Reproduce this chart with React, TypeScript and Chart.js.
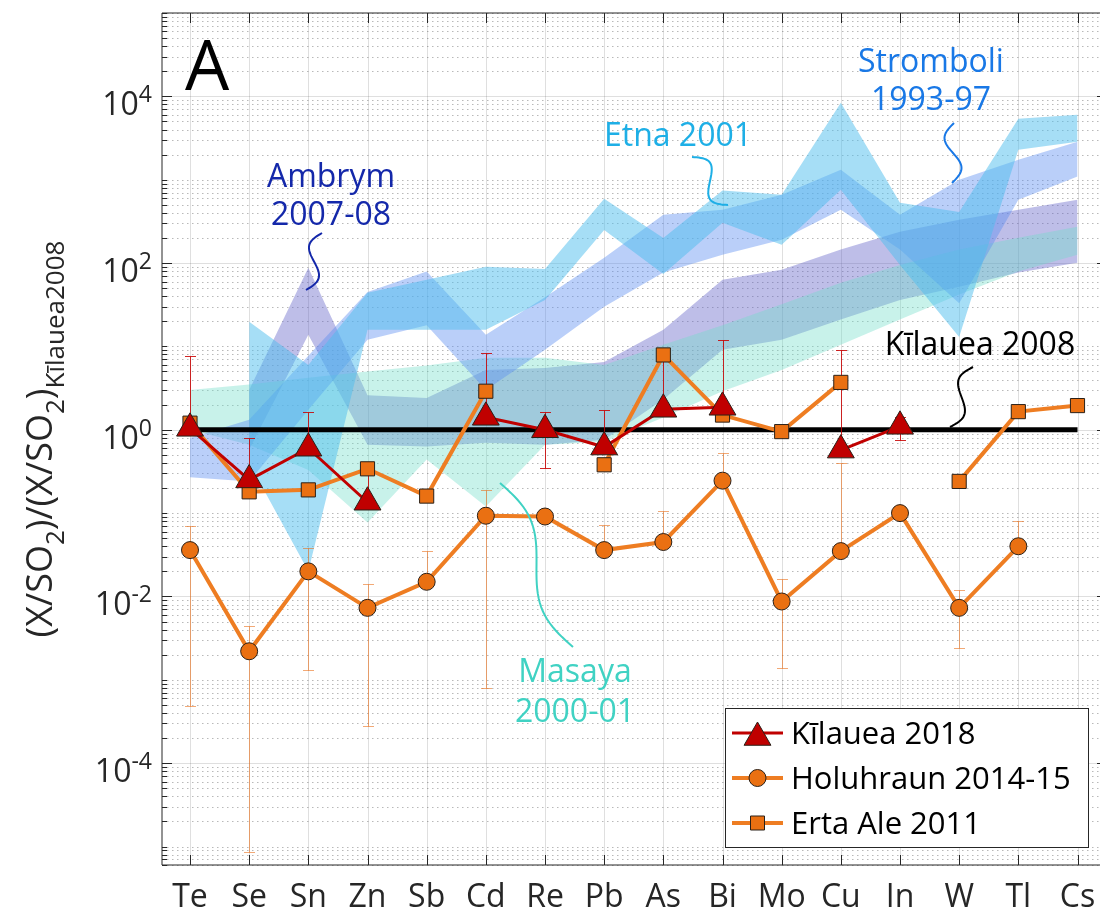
import React, { useEffect, useRef } from 'react';
import { Chart, registerables } from 'chart.js';

Chart.register(...registerables);

// ---------------- data ----------------
const categories = ['Te', 'Se', 'Sn', 'Zn', 'Sb', 'Cd', 'Re', 'Pb', 'As', 'Bi', 'Mo', 'Cu', 'In', 'W', 'Tl', 'Cs'];

const yTickExponents = [-4, -2, 0, 2, 4];

// Kīlauea 2018 (red triangles)
const kilauea2018 = [1.04, 0.25, 0.6, 0.135, null, 1.41, 1.0, 0.62, 1.76, 1.86, null, 0.57, 1.1, null, null, null];
const kilauea2018ErrHigh = [7.7, 0.8, 1.65, 0.36, null, 8.4, 1.65, 1.74, 7.8, 12, null, 9.1, 1.44, null, null, null];
const kilauea2018ErrLow = [null, null, null, null, null, null, 0.35, null, null, null, null, null, 0.76, null, null, null];

// Holuhraun 2014-15 (orange circles)
const holuhraun = [0.036, 0.0022, 0.02, 0.0073, 0.015, 0.093, 0.091, 0.036, 0.045, 0.245, 0.0087, 0.035, 0.1, 0.0073, 0.04, null];
const holuhraunErrHigh = [0.07, 0.0044, 0.038, 0.014, 0.035, 0.19, null, 0.072, 0.107, 0.53, 0.016, 0.4, null, 0.012, 0.081, null];
const holuhraunErrLow = [0.00048, 0.0000087, 0.0013, 0.00028, null, 0.0008, null, null, null, null, 0.0014, null, null, 0.0024, null, null];

// Erta Ale 2011 (orange squares)
const ertaAle = [1.2, 0.18, 0.19, 0.34, 0.16, 2.9, null, 0.38, 7.9, 1.5, 0.95, 3.7, null, 0.24, 1.65, 1.95];

// Kīlauea 2008 reference
const kilauea2008 = [1, 1, 1, 1, 1, 1, 1, 1, 1, 1, 1, 1, 1, 1, 1, 1];

// Ranges of other volcanoes (max / min)
const etnaMax = [null, 19.8, 6.0, 44, 63, 90, 85, 590, 200, 740, 660, 8400, 530, 410, 5400, 6000];
const etnaMin = [null, 0.4, 0.02, 15.8, 15.8, 15.8, 36, 250, 74, 305, 166, 760, 95, 13, 2290, 2860];
const stromboliMax = [0.8, 1.32, 7.7, 45, 79, 13.8, 39, 116, 380, 437, 661, 1318, 380, 1000, 1738, 2860];
const stromboliMin = [0.27, 0.24, 1.74, 12, 18, 3.0, 9.1, 30, 77, 126, 190, 437, 145, 33, 575, 1090];
const ambrymMax = [null, 3.0, 88, 2.6, 2.4, 5.2, 5.5, 6.5, 15.8, 63, 83, 145, 238, 331, 437, 575];
const ambrymMin = [null, 0.58, 13.8, 0.66, 0.63, 0.7, 0.66, 0.76, 2.3, 9.1, 12, 21, 36, 52, 77, 101];
const masayaMax = [3.0, 3.5, 4.2, 5.0, 5.9, 7.3, 7.3, 6.0, 10.5, 18, 32, 58, 95, 145, 201, 273];
const masayaMin = [1.0, 0.66, 0.33, 0.077, 0.44, 0.12, 0.66, 0.72, 1.4, 2.9, 5.2, 10.5, 21, 42, 79, 126];

// ---------------- styles ----------------
const FONT = '"Open Sans", "Noto Sans", "DejaVu Sans", sans-serif';
const AX = '#262626';
const RED = '#C00000';
const ORANGE_FILL = '#EA7012';
const ORANGE_LINE = '#EE7D22';
const MARKER_EDGE = '#2a2018';

const W = 1100;
const H = 913;

type Pt = { x: number; y: number | null };

function drawTriangle(ctx: CanvasRenderingContext2D, x: number, y: number, r: number) {
  ctx.beginPath();
  ctx.moveTo(x, y - r);
  ctx.lineTo(x + 0.866 * r, y + 0.5 * r);
  ctx.lineTo(x - 0.866 * r, y + 0.5 * r);
  ctx.closePath();
  ctx.fillStyle = RED;
  ctx.fill();
  ctx.lineWidth = 1;
  ctx.strokeStyle = MARKER_EDGE;
  ctx.stroke();
}

function drawCircle(ctx: CanvasRenderingContext2D, x: number, y: number, r: number) {
  ctx.beginPath();
  ctx.arc(x, y, r, 0, Math.PI * 2);
  ctx.fillStyle = ORANGE_FILL;
  ctx.fill();
  ctx.lineWidth = 1;
  ctx.strokeStyle = MARKER_EDGE;
  ctx.stroke();
}

function drawSquare(ctx: CanvasRenderingContext2D, x: number, y: number, s: number) {
  ctx.beginPath();
  ctx.rect(x - s / 2, y - s / 2, s, s);
  ctx.fillStyle = ORANGE_FILL;
  ctx.fill();
  ctx.lineWidth = 1;
  ctx.strokeStyle = MARKER_EDGE;
  ctx.stroke();
}

function squiggle(ctx: CanvasRenderingContext2D, x0: number, y0: number, x1: number, y1: number, amp: number, color: string) {
  const dx = x1 - x0;
  const dy = y1 - y0;
  const len = Math.hypot(dx, dy);
  const px = -dy / len;
  const py = dx / len;
  ctx.beginPath();
  for (let k = 0; k <= 40; k++) {
    const t = k / 40;
    const off = amp * Math.sin(2 * Math.PI * t);
    const x = x0 + dx * t + px * off;
    const y = y0 + dy * t + py * off;
    if (k === 0) ctx.moveTo(x, y);
    else ctx.lineTo(x, y);
  }
  ctx.strokeStyle = color;
  ctx.lineWidth = 2;
  ctx.stroke();
}

export default function App() {
  const canvasRef = useRef<HTMLCanvasElement | null>(null);

  useEffect(() => {
    const canvas = canvasRef.current;
    if (!canvas) return;

    const toPts = (arr: (number | null)[]): Pt[] => arr.map((v, i) => ({ x: i + 1, y: v }));
    const defined = (arr: (number | null)[]): Pt[] => toPts(arr).filter((p) => p.y !== null);

    const bands = [
      { max: ambrymMax, min: ambrymMin, color: 'rgba(100,100,200,0.42)' },
      { max: masayaMax, min: masayaMin, color: 'rgba(110,220,200,0.38)' },
      { max: stromboliMax, min: stromboliMin, color: 'rgba(90,140,240,0.42)' },
      { max: etnaMax, min: etnaMin, color: 'rgba(77,190,238,0.5)' },
    ];

    const datasets: any[] = [];
    bands.forEach((b, k) => {
      datasets.push({
        data: defined(b.max),
        fill: '+1',
        backgroundColor: b.color,
        borderColor: 'rgba(0,0,0,0)',
        borderWidth: 0,
        pointRadius: 0,
        order: 20 - k,
      });
      datasets.push({
        data: defined(b.min),
        fill: false,
        borderColor: 'rgba(0,0,0,0)',
        borderWidth: 0,
        pointRadius: 0,
        order: 20 - k,
      });
    });

    const refIndex = datasets.length;
    datasets.push({
      data: toPts(kilauea2008),
      borderColor: '#000000',
      borderWidth: 5,
      pointRadius: 0,
      fill: false,
      order: 5,
    });

    datasets.push({
      data: toPts(ertaAle),
      borderColor: ORANGE_LINE,
      borderWidth: 4,
      pointStyle: 'rect',
      pointRadius: 10,
      pointBackgroundColor: ORANGE_FILL,
      pointBorderColor: MARKER_EDGE,
      pointBorderWidth: 1,
      fill: false,
      spanGaps: false,
      order: 3,
    });
    datasets.push({
      data: toPts(holuhraun),
      borderColor: ORANGE_LINE,
      borderWidth: 4,
      pointStyle: 'circle',
      pointRadius: 8.5,
      pointBackgroundColor: ORANGE_FILL,
      pointBorderColor: MARKER_EDGE,
      pointBorderWidth: 1,
      fill: false,
      spanGaps: false,
      order: 2,
    });
    datasets.push({
      data: toPts(kilauea2018),
      borderColor: RED,
      borderWidth: 3,
      pointStyle: 'triangle',
      pointRadius: 15.5,
      pointBackgroundColor: RED,
      pointBorderColor: MARKER_EDGE,
      pointBorderWidth: 1,
      fill: false,
      spanGaps: false,
      order: 1,
    });

    const decor = {
      id: 'decor',
      beforeDatasetsDraw(chart: any) {
        const ctx: CanvasRenderingContext2D = chart.ctx;
        const { left, right, top, bottom } = chart.chartArea;
        const ys = chart.scales.y;
        const xs = chart.scales.x;
        ctx.save();
        // minor dotted grid
        ctx.lineWidth = 1;
        ctx.strokeStyle = 'rgba(38,38,38,0.32)';
        ctx.setLineDash([1.5, 3.5]);
        for (let e = -6; e <= 5; e++) {
          for (let m = 1; m <= 9; m++) {
            if (m === 1 && e % 2 === 0) continue;
            const v = m * Math.pow(10, e);
            const y = ys.getPixelForValue(v);
            if (y < top || y > bottom) continue;
            const yy = Math.round(y) + 0.5;
            ctx.beginPath();
            ctx.moveTo(left, yy);
            ctx.lineTo(right, yy);
            ctx.stroke();
          }
        }
        ctx.setLineDash([]);
        ctx.strokeStyle = 'rgba(38,38,38,0.15)';
        yTickExponents.forEach((e) => {
          const yy = Math.round(ys.getPixelForValue(Math.pow(10, e))) + 0.5;
          ctx.beginPath();
          ctx.moveTo(left, yy);
          ctx.lineTo(right, yy);
          ctx.stroke();
        });
        categories.forEach((_, i) => {
          const xx = Math.round(xs.getPixelForValue(i + 1)) + 0.5;
          ctx.beginPath();
          ctx.moveTo(xx, top);
          ctx.lineTo(xx, bottom);
          ctx.stroke();
        });
        ctx.restore();
      },
      afterDatasetDraw(chart: any, args: any) {
        if (args.index !== refIndex) return;
        const ctx: CanvasRenderingContext2D = chart.ctx;
        const ys = chart.scales.y;
        const xs = chart.scales.x;
        const drawErr = (vals: (number | null)[], hi: (number | null)[], lo: (number | null)[], color: string) => {
          ctx.save();
          ctx.strokeStyle = color;
          ctx.lineWidth = 1;
          vals.forEach((v, i) => {
            if (v === null) return;
            const x = Math.round(xs.getPixelForValue(i + 1)) + 0.5;
            const y0 = ys.getPixelForValue(v);
            [hi[i], lo[i]].forEach((e) => {
              if (e === null || e === undefined) return;
              const y1 = Math.round(ys.getPixelForValue(e)) + 0.5;
              ctx.beginPath();
              ctx.moveTo(x, y0);
              ctx.lineTo(x, y1);
              ctx.moveTo(x - 5.5, y1);
              ctx.lineTo(x + 5.5, y1);
              ctx.stroke();
            });
          });
          ctx.restore();
        };
        drawErr(holuhraun, holuhraunErrHigh, holuhraunErrLow, 'rgba(234,112,26,0.6)');
        drawErr(kilauea2018, kilauea2018ErrHigh, kilauea2018ErrLow, 'rgba(200,0,0,0.85)');
      },
      afterDraw(chart: any) {
        const ctx: CanvasRenderingContext2D = chart.ctx;
        const { left, right, top, bottom } = chart.chartArea;
        const ys = chart.scales.y;
        const xs = chart.scales.x;
        ctx.save();
        // axes lines
        ctx.strokeStyle = AX;
        ctx.lineWidth = 1;
        ctx.beginPath();
        ctx.moveTo(left, top);
        ctx.lineTo(left, bottom);
        ctx.lineTo(right, bottom);
        ctx.moveTo(left, top);
        ctx.lineTo(right, top);
        ctx.stroke();
        // y ticks
        for (let e = -6; e <= 5; e++) {
          for (let m = 1; m <= 9; m++) {
            const v = m * Math.pow(10, e);
            const y = ys.getPixelForValue(v);
            if (y < top - 0.5 || y > bottom + 0.5) continue;
            const major = m === 1 && e % 2 === 0;
            const len = major ? 10 : 5;
            const yy = Math.round(y) + 0.5;
            ctx.beginPath();
            ctx.moveTo(left, yy);
            ctx.lineTo(left + len, yy);
            if (major) {
              ctx.moveTo(right - 3, yy);
              ctx.lineTo(right, yy);
            }
            ctx.stroke();
          }
        }
        // x ticks
        categories.forEach((_, i) => {
          const xx = Math.round(xs.getPixelForValue(i + 1)) + 0.5;
          ctx.beginPath();
          ctx.moveTo(xx, bottom);
          ctx.lineTo(xx, bottom - 10);
          ctx.moveTo(xx, top);
          ctx.lineTo(xx, top + 10);
          ctx.stroke();
        });
        // x tick labels
        ctx.fillStyle = AX;
        ctx.font = `32px ${FONT}`;
        ctx.textAlign = 'center';
        ctx.textBaseline = 'alphabetic';
        categories.forEach((c, i) => {
          ctx.fillText(c, xs.getPixelForValue(i + 1), 907);
        });
        // y tick labels 10^e
        ctx.textAlign = 'right';
        yTickExponents.forEach((e) => {
          const y = ys.getPixelForValue(Math.pow(10, e));
          const expStr = e < 0 ? '-' + Math.abs(e) : String(e);
          ctx.font = `23px ${FONT}`;
          const ew = ctx.measureText(expStr).width;
          ctx.fillText(expStr, 152, y + 6);
          ctx.font = `32px ${FONT}`;
          ctx.fillText('10', 152 - ew, y + 19);
        });
        // y axis label with subscripts
        ctx.save();
        ctx.translate(52, 0);
        ctx.rotate(-Math.PI / 2);
        ctx.textAlign = 'left';
        const mainFont = `36px ${FONT}`;
        const subFont = `26px ${FONT}`;
        const runs: [string, boolean][] = [
          ['(X/SO', false],
          ['2', true],
          [')/(X/SO', false],
          ['2', true],
          [')', false],
          ['Kīlauea2008', true],
        ];
        let total = 0;
        runs.forEach(([t, s]) => {
          ctx.font = s ? subFont : mainFont;
          total += ctx.measureText(t).width;
        });
        const mid = (top + bottom) / 2;
        let u = -(mid + total / 2);
        runs.forEach(([t, s]) => {
          ctx.font = s ? subFont : mainFont;
          ctx.fillText(t, u, s ? 12 : 0);
          u += ctx.measureText(t).width;
        });
        ctx.restore();

        // panel letter
        ctx.fillStyle = '#000';
        ctx.textAlign = 'left';
        ctx.font = `70px ${FONT}`;
        ctx.fillText('A', 185, 90);

        // annotations
        ctx.textAlign = 'center';
        ctx.font = `32px ${FONT}`;
        ctx.fillStyle = '#1428AA';
        ctx.fillText('Ambrym', 331, 187);
        ctx.fillText('2007-08', 331, 225);
        squiggle(ctx, 322, 233, 306, 290, 9, '#1428AA');

        ctx.fillStyle = '#1EAFE6';
        ctx.fillText('Etna 2001', 678, 146);
        squiggle(ctx, 692, 157, 728, 205, -11, '#1EAFE6');

        ctx.fillStyle = '#1978E6';
        ctx.fillText('Stromboli', 931, 72);
        ctx.fillText('1993-97', 931, 110);
        squiggle(ctx, 954, 123, 952, 183, 9, '#1978E6');

        ctx.fillStyle = '#40D2C3';
        ctx.fillText('Masaya', 575, 682);
        ctx.fillText('2000-01', 575, 722);
        squiggle(ctx, 500, 483, 573, 647, -13, '#40D2C3');

        ctx.fillStyle = '#000';
        ctx.fillText('Kīlauea 2008', 980, 355);
        squiggle(ctx, 973, 367, 950, 427, 9, '#000');

        // legend
        ctx.fillStyle = '#ffffff';
        ctx.fillRect(725, 708, 363, 139);
        ctx.strokeStyle = AX;
        ctx.lineWidth = 1;
        ctx.strokeRect(725.5, 708.5, 363, 139);
        const rows = [
          { label: 'Kīlauea 2018', y: 733, color: RED, w: 3, kind: 'tri' },
          { label: 'Holuhraun 2014-15', y: 778, color: ORANGE_LINE, w: 4, kind: 'circ' },
          { label: 'Erta Ale 2011', y: 823, color: ORANGE_LINE, w: 4, kind: 'sq' },
        ];
        rows.forEach((r) => {
          ctx.strokeStyle = r.color;
          ctx.lineWidth = r.w;
          ctx.beginPath();
          ctx.moveTo(732, r.y);
          ctx.lineTo(783, r.y);
          ctx.stroke();
          if (r.kind === 'tri') drawTriangle(ctx, 757.5, r.y + 4.5, 15.5);
          else if (r.kind === 'circ') drawCircle(ctx, 757.5, r.y, 8.5);
          else drawSquare(ctx, 757.5, r.y, 14);
          ctx.fillStyle = '#000';
          ctx.textAlign = 'left';
          ctx.font = `31px ${FONT}`;
          ctx.fillText(r.label, 791, r.y + 11);
        });
        ctx.restore();
      },
    };

    const pxPerUnit = (1077.5 - 190) / 15;
    const chart = new Chart(canvas, {
      type: 'line',
      data: { datasets },
      options: {
        responsive: false,
        animation: false,
        events: [],
        layout: { autoPadding: false, padding: { left: 162, top: 13, right: 0, bottom: 48 } },
        scales: {
          x: { type: 'linear', min: 1 - (190 - 162) / pxPerUnit, max: 16 + (1100 - 1077.5) / pxPerUnit, display: false },
          y: { type: 'logarithmic', min: 6e-6, max: 1e5, display: false },
        },
        elements: { line: { tension: 0 } },
        plugins: { legend: { display: false }, tooltip: { enabled: false } },
      },
      plugins: [decor],
    } as any);

    return () => {
      chart.destroy();
    };
  }, []);

  return (
    <div style={{ position: 'fixed', left: 0, top: 0, width: W, height: H, background: '#ffffff' }}>
      <canvas ref={canvasRef} width={W} height={H} style={{ display: 'block', width: W, height: H }} />
    </div>
  );
}
